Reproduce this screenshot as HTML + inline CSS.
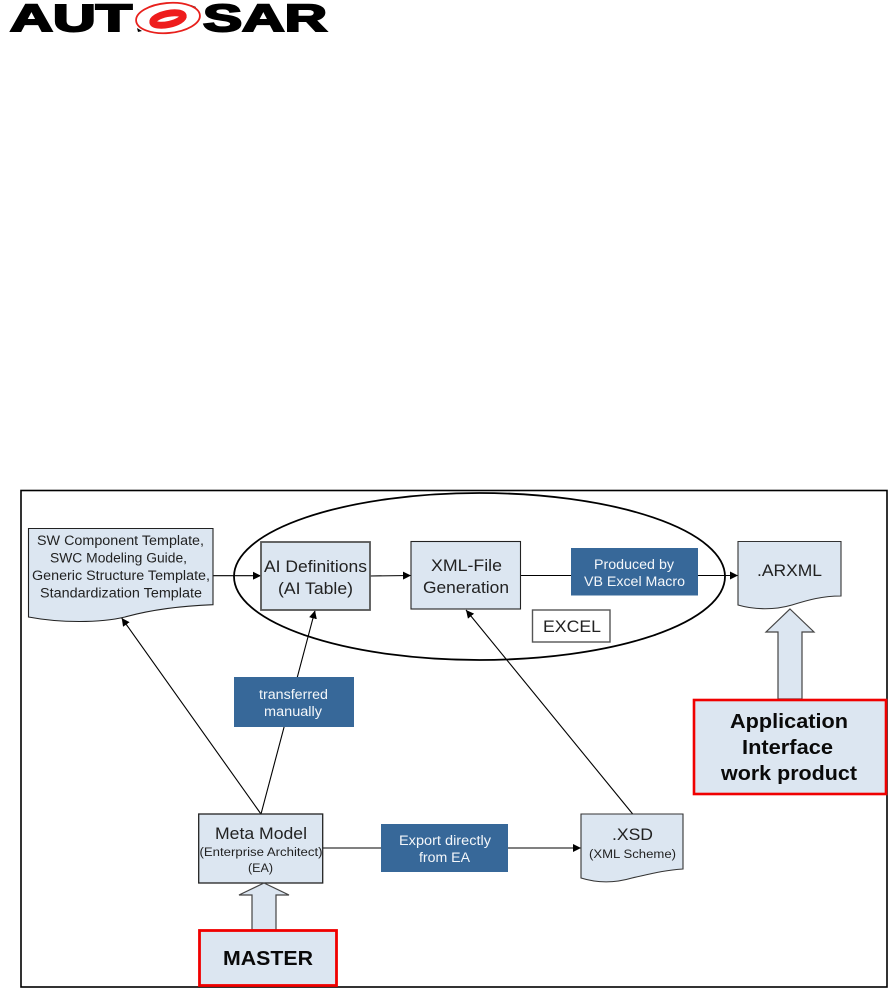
<!DOCTYPE html>
<html>
<head>
<meta charset="utf-8">
<style>
html,body{margin:0;padding:0;background:#fff;}
svg{display:block;}
text{font-family:"Liberation Sans",sans-serif;fill:#222;}
.w{fill:#f4f7fa;}
.b{font-weight:bold;fill:#0a0a0a;}
</style>
</head>
<body>
<svg width="888" height="988" viewBox="0 0 888 988" xmlns="http://www.w3.org/2000/svg">
<defs>
<marker id="ah" markerUnits="userSpaceOnUse" markerWidth="9" markerHeight="8" refX="8" refY="4" orient="auto">
<path d="M0,0 L8,4 L0,8 Z" fill="#000"/>
</marker>
</defs>
<rect width="888" height="988" fill="#fff"/>

<!-- logo -->
<text x="10" y="31" font-size="38" font-weight="bold" textLength="122" lengthAdjust="spacingAndGlyphs" stroke="#000" stroke-width="2" style="fill:#000">AUT</text>
<text x="203" y="31" font-size="38" font-weight="bold" textLength="124" lengthAdjust="spacingAndGlyphs" stroke="#000" stroke-width="2" style="fill:#000">SAR</text>
<path d="M191,5 L196,7 L193,10 Z M137,28 L142,31 L138,32 Z" fill="#000"/>
<ellipse cx="168" cy="18" rx="32" ry="15" transform="rotate(-5 168 18)" fill="#fff" stroke="#e8201c" stroke-width="1.8"/>
<ellipse cx="168" cy="19" rx="15.5" ry="5.5" transform="rotate(-12 168 19)" fill="#fff" stroke="#ee1c1c" stroke-width="7"/>

<!-- frame -->
<rect x="21" y="490.5" width="866" height="496.5" fill="#fff" stroke="#000" stroke-width="1.6"/>

<!-- ellipse -->
<ellipse cx="479.5" cy="576.5" rx="245.5" ry="83.5" fill="none" stroke="#000" stroke-width="1.8"/>

<!-- connectors -->
<g stroke="#000" stroke-width="1.1" fill="none">
<line x1="213" y1="575.7" x2="261" y2="575.7" marker-end="url(#ah)"/>
<line x1="370" y1="576" x2="411" y2="575.5" marker-end="url(#ah)"/>
<line x1="521" y1="575.5" x2="738" y2="575.5" marker-end="url(#ah)"/>
<line x1="323" y1="848" x2="581" y2="848" marker-end="url(#ah)"/>
<line x1="261" y1="814" x2="121.7" y2="618" marker-end="url(#ah)"/>
<line x1="261" y1="814" x2="315" y2="610.5" marker-end="url(#ah)"/>
<line x1="632.7" y1="814" x2="466" y2="610" marker-end="url(#ah)"/>
</g>

<!-- doc shapes -->
<path d="M28.5,528.5 H213 V604.7 C180,606 150,610 125,617 C100,623 60,623 28.5,617 Z" fill="#dce6f1" stroke="#222" stroke-width="1.1"/>
<path d="M738,541.5 H841 V596 C822,596 808,600 792,605 C775,610 755,610 738,605 Z" fill="#dce6f1" stroke="#333" stroke-width="1.1"/>
<path d="M581,814 H683 V869 C665,870 650,874 632,878 C615,883 597,883 581,878 Z" fill="#dce6f1" stroke="#333" stroke-width="1.1"/>

<!-- boxes -->
<rect x="261" y="542" width="109" height="68" fill="#dce6f1" stroke="#555" stroke-width="1.8"/>
<rect x="411" y="541.5" width="109.5" height="67.5" fill="#dce6f1" stroke="#222" stroke-width="1.1"/>
<rect x="571" y="548" width="127" height="47.5" fill="#376899"/>
<rect x="532.5" y="610" width="77.5" height="32" fill="#fff" stroke="#555" stroke-width="1.4"/>
<rect x="234" y="677" width="120" height="50" fill="#376899"/>
<rect x="198.7" y="814" width="124" height="69" fill="#dce6f1" stroke="#222" stroke-width="1.3"/>
<rect x="381" y="824" width="127" height="48" fill="#376899"/>

<!-- block arrows -->
<path d="M790,609 L814,632 H802 V699 H778 V632 H766 Z" fill="#dce6f1" stroke="#444" stroke-width="1.2"/>
<path d="M264,883 L289,895 H276 V930 H252 V895 H239 Z" fill="#dce6f1" stroke="#444" stroke-width="1.2"/>

<!-- red boxes -->
<rect x="694" y="700" width="192" height="94" fill="#dce6f1" stroke="#f00000" stroke-width="2.6"/>
<rect x="199.5" y="930.5" width="137" height="55" fill="#dce6f1" stroke="#f00000" stroke-width="2.8"/>

<!-- labels -->
<text x="37" y="545" font-size="13.5" textLength="167" lengthAdjust="spacingAndGlyphs">SW Component Template,</text>
<text x="50" y="562.5" font-size="13.5" textLength="137" lengthAdjust="spacingAndGlyphs">SWC Modeling Guide,</text>
<text x="32" y="580" font-size="13.5" textLength="178" lengthAdjust="spacingAndGlyphs">Generic Structure Template,</text>
<text x="40" y="597.5" font-size="13.5" textLength="162" lengthAdjust="spacingAndGlyphs">Standardization Template</text>

<text x="264" y="572" font-size="17" textLength="103" lengthAdjust="spacingAndGlyphs">AI Definitions</text>
<text x="278" y="594" font-size="17" textLength="75" lengthAdjust="spacingAndGlyphs">(AI Table)</text>

<text x="431" y="571" font-size="17" textLength="71" lengthAdjust="spacingAndGlyphs">XML-File</text>
<text x="423" y="593" font-size="17" textLength="86" lengthAdjust="spacingAndGlyphs">Generation</text>

<text class="w" x="594" y="569" font-size="13.5" textLength="80" lengthAdjust="spacingAndGlyphs">Produced by</text>
<text class="w" x="584" y="586" font-size="13.5" textLength="101" lengthAdjust="spacingAndGlyphs">VB Excel Macro</text>

<text x="543" y="632" font-size="17" textLength="58" lengthAdjust="spacingAndGlyphs">EXCEL</text>
<text x="757" y="576" font-size="17" textLength="65" lengthAdjust="spacingAndGlyphs">.ARXML</text>

<text class="b" x="730" y="728" font-size="20.5" textLength="118" lengthAdjust="spacingAndGlyphs">Application</text>
<text class="b" x="742" y="754" font-size="20.5" textLength="91" lengthAdjust="spacingAndGlyphs">Interface</text>
<text class="b" x="721" y="780" font-size="20.5" textLength="136" lengthAdjust="spacingAndGlyphs">work product</text>

<text class="w" x="259" y="699" font-size="13.5" textLength="69" lengthAdjust="spacingAndGlyphs">transferred</text>
<text class="w" x="264" y="716" font-size="13.5" textLength="58" lengthAdjust="spacingAndGlyphs">manually</text>

<text x="215" y="839" font-size="17" textLength="92" lengthAdjust="spacingAndGlyphs">Meta Model</text>
<text x="199.5" y="856" font-size="11.5" textLength="123" lengthAdjust="spacingAndGlyphs">(Enterprise Architect)</text>
<text x="248" y="872" font-size="11.5" textLength="25" lengthAdjust="spacingAndGlyphs">(EA)</text>

<text class="w" x="399" y="845" font-size="13.5" textLength="92" lengthAdjust="spacingAndGlyphs">Export directly</text>
<text class="w" x="419" y="862" font-size="13.5" textLength="51" lengthAdjust="spacingAndGlyphs">from EA</text>

<text x="612" y="840" font-size="17" textLength="41" lengthAdjust="spacingAndGlyphs">.XSD</text>
<text x="589" y="858" font-size="11.5" textLength="87" lengthAdjust="spacingAndGlyphs">(XML Scheme)</text>

<text class="b" x="223" y="965" font-size="20.5" textLength="90" lengthAdjust="spacingAndGlyphs">MASTER</text>
</svg>
</body>
</html>
